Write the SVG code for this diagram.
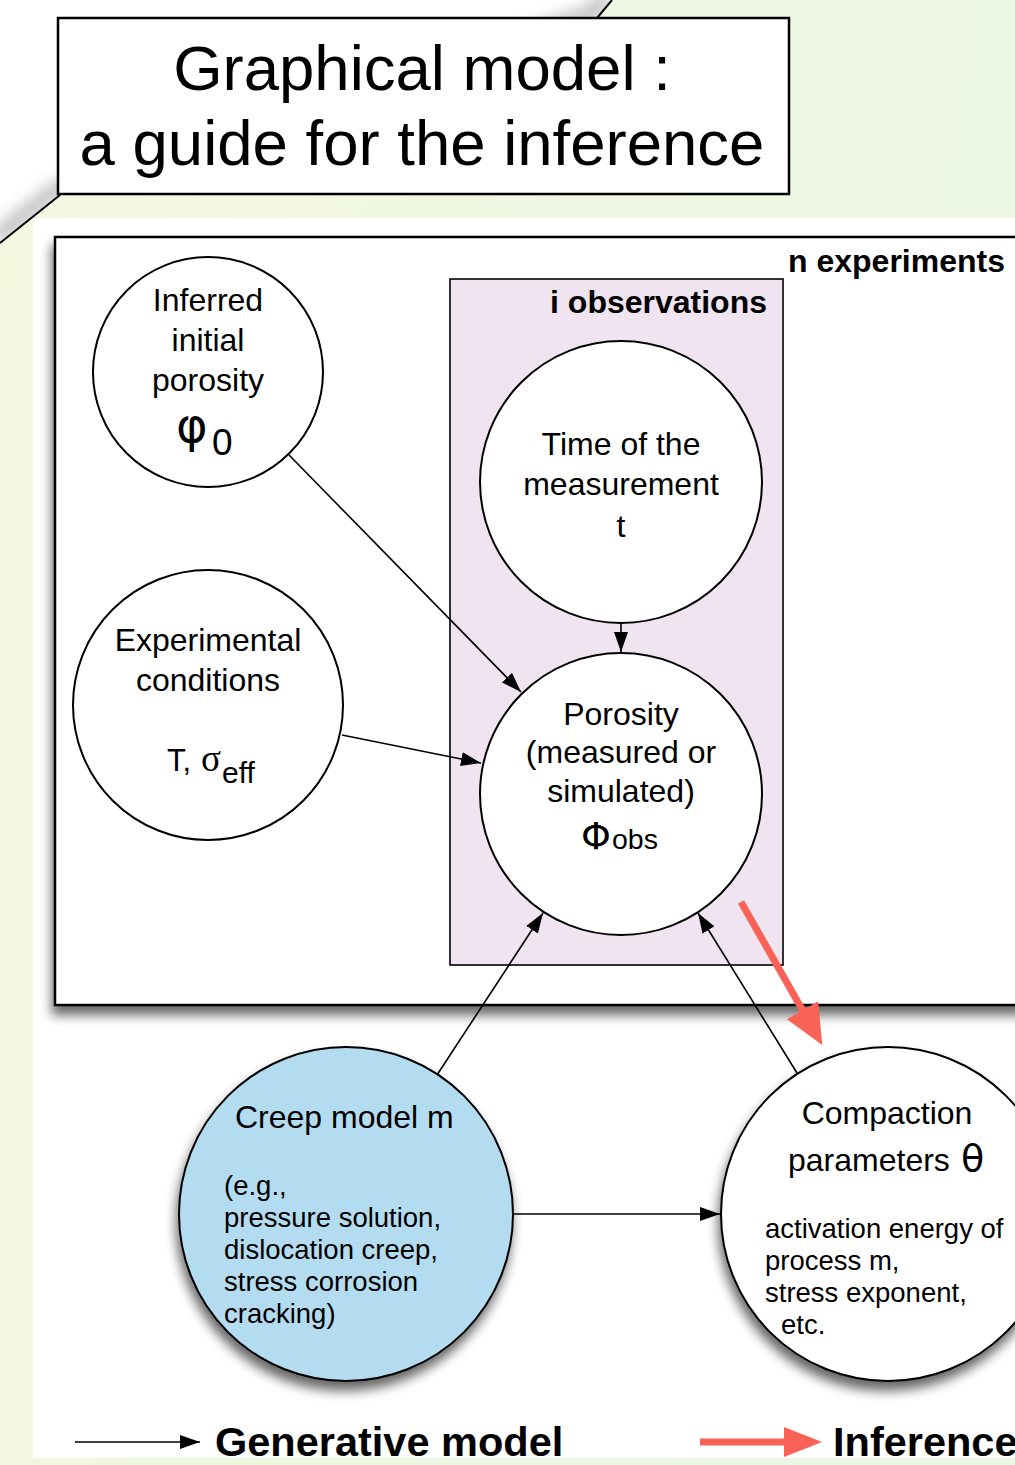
<svg xmlns="http://www.w3.org/2000/svg" width="1015" height="1465" viewBox="0 0 1015 1465">
  <defs>
    <linearGradient id="bgGreen" x1="0" y1="0" x2="1" y2="0.3">
      <stop offset="0" stop-color="#f4f8df"/>
      <stop offset="1" stop-color="#ebf6e4"/>
    </linearGradient>
    <filter id="shadow" x="-20%" y="-20%" width="140%" height="145%">
      <feGaussianBlur in="SourceAlpha" stdDeviation="6"/>
      <feOffset dx="-2" dy="9" result="b"/>
      <feComponentTransfer><feFuncA type="linear" slope="0.6"/></feComponentTransfer>
      <feMerge><feMergeNode/><feMergeNode in="SourceGraphic"/></feMerge>
    </filter>
    <filter id="soft" x="-50%" y="-50%" width="200%" height="200%">
      <feGaussianBlur stdDeviation="8"/>
    </filter>
    <marker id="head" viewBox="0 0 20 14" refX="20" refY="7" markerWidth="20" markerHeight="14" markerUnits="userSpaceOnUse" orient="auto">
      <path d="M0,0 L20,7 L0,14 z" fill="#000"/>
    </marker>
    <marker id="headRed" viewBox="0 0 40 36" refX="1" refY="18" markerWidth="40" markerHeight="36" markerUnits="userSpaceOnUse" orient="auto">
      <path d="M0,0 L40,18 L0,36 z" fill="#fa6257"/>
    </marker>
    <marker id="headRedSmall" viewBox="0 0 38 30" refX="1" refY="15" markerWidth="38" markerHeight="30" markerUnits="userSpaceOnUse" orient="auto">
      <path d="M0,0 L38,15 L0,30 z" fill="#fa6257"/>
    </marker>
    <style>
      text { font-family: "Liberation Sans", Arial, sans-serif; fill: #000; }
      .node { fill: #fff; stroke: #000; stroke-width: 2; }
      .main { font-size: 32px; text-anchor: middle; }
      .small { font-size: 27.5px; }
      .bold { font-weight: bold; font-size: 32px; }
      .legend { font-weight: bold; font-size: 41.5px; }
      .title { font-size: 63.5px; text-anchor: middle; }
      .edge { stroke: #000; stroke-width: 1.6; fill: none; marker-end: url(#head); }
      .infer { stroke: #fa6257; stroke-width: 7; fill: none; }
      .greek { font-family: "DejaVu Sans", "Liberation Sans", sans-serif; }
      .serif { font-family: "Liberation Serif", "DejaVu Serif", serif; }
    </style>
  </defs>

  <!-- page background -->
  <rect x="0" y="0" width="1015" height="1465" fill="#fff"/>
  <path d="M612,0 L597,18 L60,195 L0,243" fill="none" stroke="#999" stroke-width="12" opacity="0.8" filter="url(#soft)" transform="translate(-5,-5)"/>
  <path d="M612,0 L1015,0 L1015,1465 L0,1465 L0,243 L60,195 L597,18 Z" fill="url(#bgGreen)"/>
  <path d="M612,0 L597,18 M60,195 L0,243" fill="none" stroke="#000" stroke-width="2"/>
  <rect x="33" y="218" width="982" height="1240" fill="#fff"/>

  <!-- title -->
  <g id="title">
    <rect x="58" y="18" width="731" height="176" fill="#fff" stroke="#000" stroke-width="2.5"/>
    <text class="title" x="422" y="90">Graphical model :</text>
    <text class="title" x="422" y="165">a guide for the inference</text>
  </g>

  <!-- plate: n experiments -->
  <g id="plate-experiments">
    <rect x="55" y="237" width="990" height="768" fill="#fff" stroke="#000" stroke-width="2.5" filter="url(#shadow)"/>
    <text class="bold" x="788" y="272">n experiments</text>
  </g>

  <!-- plate: i observations -->
  <g id="plate-observations">
    <rect x="450" y="279" width="333" height="686" fill="#f0e4f0" stroke="#000" stroke-width="1.6"/>
    <text class="bold" x="767" y="313" text-anchor="end">i observations</text>
  </g>

  <g id="node-phi0">
    <circle class="node" cx="208" cy="372" r="115"/>
    <text class="main" x="208" y="311">Inferred</text>
    <text class="main" x="208" y="351">initial</text>
    <text class="main" x="208" y="391">porosity</text>
    <text x="176" y="442" font-size="48" class="greek">φ</text>
    <text x="212" y="455" font-size="37">0</text>
  </g>

  <g id="node-conditions">
    <circle class="node" cx="208" cy="705" r="135"/>
    <text class="main" x="208" y="651">Experimental</text>
    <text class="main" x="208" y="691">conditions</text>
    <text x="167" y="771" font-size="31">T,</text>
    <text x="201" y="771" font-size="37" class="serif">σ</text>
    <text x="222" y="783" font-size="30">eff</text>
  </g>

  <g id="node-time">
    <circle class="node" cx="621" cy="482" r="141"/>
    <text class="main" x="621" y="455">Time of the</text>
    <text class="main" x="621" y="495">measurement</text>
    <text class="main" x="621" y="537">t</text>
  </g>

  <g id="node-porosity">
    <circle class="node" cx="621" cy="794" r="141"/>
    <text class="main" x="621" y="725">Porosity</text>
    <text class="main" x="621" y="763">(measured or</text>
    <text class="main" x="621" y="802">simulated)</text>
    <text x="581" y="849" font-size="38" class="greek">Φ</text>
    <text x="612" y="849" font-size="28.5">obs</text>
  </g>

  <g id="node-creep">
    <circle cx="346" cy="1214" r="167" fill="#b4dcf0" stroke="#000" stroke-width="2" filter="url(#shadow)"/>
    <text x="235" y="1128" font-size="32">Creep model m</text>
    <text class="small" x="224" y="1195">(e.g.,</text>
    <text class="small" x="224" y="1227">pressure solution,</text>
    <text class="small" x="224" y="1259">dislocation creep,</text>
    <text class="small" x="224" y="1291">stress corrosion</text>
    <text class="small" x="224" y="1323">cracking)</text>
  </g>

  <g id="node-compaction">
    <circle class="node" cx="888" cy="1214" r="167" filter="url(#shadow)"/>
    <text class="main" x="887" y="1124">Compaction</text>
    <text x="788" y="1171" font-size="32">parameters</text>
    <text x="961" y="1171" font-size="38" class="greek">θ</text>
    <text class="small" x="765" y="1238">activation energy of</text>
    <text class="small" x="765" y="1270">process m,</text>
    <text class="small" x="765" y="1302">stress exponent,</text>
    <text class="small" x="781" y="1334">etc.</text>
  </g>

  <!-- connectors -->
  <g id="connectors">
    <line class="edge" x1="289" y1="455" x2="521" y2="692"/>
    <line class="edge" x1="342" y1="735" x2="481" y2="763"/>
    <line class="edge" x1="621" y1="623" x2="621" y2="652"/>
    <line class="edge" x1="437" y1="1075" x2="543" y2="913"/>
    <line class="edge" x1="797" y1="1073" x2="698" y2="913"/>
    <line class="edge" x1="513" y1="1214" x2="720" y2="1214"/>
    <line class="infer" x1="741" y1="902" x2="803" y2="1011" marker-end="url(#headRed)"/>
  </g>

  <!-- legend -->
  <g id="legend">
    <line class="edge" x1="75" y1="1442" x2="200" y2="1442"/>
    <text class="legend" x="215" y="1456">Generative model</text>
    <line class="infer" x1="700" y1="1442" x2="785" y2="1442" stroke-width="8" marker-end="url(#headRedSmall)"/>
    <text class="legend" x="833" y="1456" font-size="39">Inference</text>
  </g>
</svg>
